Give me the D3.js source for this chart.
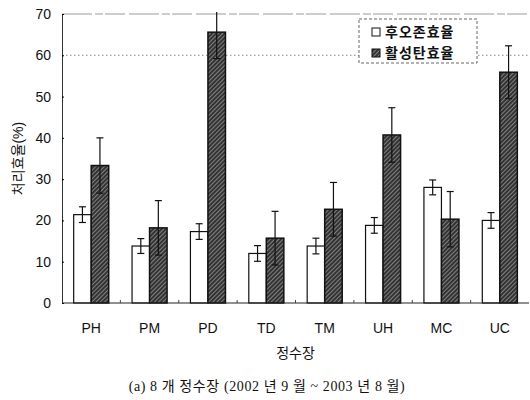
<!DOCTYPE html>
<html>
<head>
<meta charset="utf-8">
<script src="https://cdn.jsdelivr.net/npm/d3@7"></script>
<style>
  body { margin: 0; background: #fff; }
  svg text { font-family: "Liberation Sans", Arial, "Noto Sans CJK KR", sans-serif; fill: #111; }
</style>
</head>
<body>
<div id="chart"></div>
<script>
// data
var plants = ["PH", "PM", "PD", "TD", "TM", "UH", "MC", "UC"];
var ozoneEff = [21.4, 13.8, 17.3, 12.0, 13.8, 18.8, 28.0, 20.0];
var ozoneErr = [1.9, 1.8, 1.9, 1.9, 1.9, 1.9, 1.8, 1.9];
var carbonEff = [33.3, 18.2, 65.6, 15.7, 22.7, 40.7, 20.3, 55.9];
var carbonErr = [6.7, 6.6, 6.4, 6.5, 6.5, 6.6, 6.7, 6.4];
var yTicks = [0, 10, 20, 30, 40, 50, 60, 70];
var legendNames = ["후오존효율", "활성탄효율"];

var w = 530, h = 400,
    marginLeft = 62, marginRight = 1, marginTop = 14, marginBottom = 97,
    contentsWidth = w - marginLeft - marginRight, contentsHeight = h - marginTop - marginBottom;

var svg = d3.select("#chart").append("svg")
    .attr("width", w).attr("height", h);

var defs = svg.append("defs");
var pat = defs.append("pattern")
    .attr("id", "hatch")
    .attr("patternUnits", "userSpaceOnUse")
    .attr("width", 3).attr("height", 3)
    .attr("patternTransform", "rotate(45)");
pat.append("rect").attr("width", 3).attr("height", 3).attr("fill", "#333");
pat.append("line").attr("x1", 0).attr("y1", 0).attr("x2", 0).attr("y2", 3)
    .attr("stroke", "#c0c0c0").attr("stroke-width", 1.1);

defs.append("clipPath").attr("id", "clip")
  .append("rect").attr("x", -5).attr("y", -2).attr("width", contentsWidth + 10).attr("height", contentsHeight + 4);

var g = svg.append("g").attr("transform", "translate(" + marginLeft + "," + marginTop + ")");

var x0 = d3.scaleBand().domain(plants).range([0, contentsWidth]).paddingInner(0.4).paddingOuter(0.2);
var x1 = d3.scaleBand().domain([0, 1]).range([0, x0.bandwidth()]);
var y = d3.scaleLinear().domain([0, 70]).range([contentsHeight, 0]);

// grid lines (70 and 60), faint like the scan
g.append("line").attr("x1", 0).attr("x2", contentsWidth).attr("y1", y(70)).attr("y2", y(70))
    .attr("stroke", "#9a9a9a").attr("stroke-dasharray", "30,3,8,2,20,4");
g.append("line").attr("x1", 0).attr("x2", contentsWidth).attr("y1", y(60)).attr("y2", y(60))
    .attr("stroke", "#888").attr("stroke-dasharray", "1.5,2.5");

var rows = plants.map(function(p, i) {
  return [
    {plant: p, k: 0, v: ozoneEff[i], e: ozoneErr[i]},
    {plant: p, k: 1, v: carbonEff[i], e: carbonErr[i]}
  ];
});

var groups = g.append("g").attr("clip-path", "url(#clip)")
  .selectAll("g.grp").data(rows).enter().append("g")
    .attr("class", "grp")
    .attr("transform", function(d) { return "translate(" + x0(d[0].plant) + ",0)"; });

groups.selectAll("rect").data(function(d) { return d; }).enter().append("rect")
    .attr("x", function(d) { return x1(d.k); })
    .attr("y", function(d) { return y(d.v); })
    .attr("width", x1.bandwidth())
    .attr("height", function(d) { return y(0) - y(d.v); })
    .attr("fill", function(d) { return d.k ? "url(#hatch)" : "#fff"; })
    .attr("stroke", "#111")
    .attr("stroke-width", function(d) { return d.k ? 1.5 : 1.2; });

var err = groups.selectAll("g.err").data(function(d) { return d; }).enter().append("g").attr("class", "err");
var cx = function(d) { return x1(d.k) + x1.bandwidth() / 2; };
err.append("line")
    .attr("x1", cx).attr("x2", cx)
    .attr("y1", function(d) { return y(d.v + d.e); })
    .attr("y2", function(d) { return y(d.v - d.e); });
[1, -1].forEach(function(s) {
  err.filter(function(d) { return s === -1 || d.v + d.e < 70; }).append("line")
      .attr("x1", function(d) { return cx(d) - 3.5; })
      .attr("x2", function(d) { return cx(d) + 3.5; })
      .attr("y1", function(d) { return y(d.v + s * d.e); })
      .attr("y2", function(d) { return y(d.v + s * d.e); });
});
err.selectAll("line").attr("stroke", "#111").attr("stroke-width", 1.2);

// axes
var yAxis = d3.axisLeft(y).tickValues(yTicks).tickSizeInner(-2).tickSizeOuter(0).tickPadding(11);
var ya = g.append("g").call(yAxis);
ya.select(".domain").attr("stroke", "#333");
ya.selectAll("text").style("font-size", "14px");

var xa = g.append("g").attr("transform", "translate(0," + contentsHeight + ")");
xa.append("line").attr("x1", 0).attr("x2", contentsWidth).attr("stroke", "#222").attr("stroke-width", 1.2);
xa.selectAll("line.tk").data(d3.range(1, plants.length)).enter().append("line")
    .attr("class", "tk")
    .attr("x1", function(i) { return i * x0.step(); })
    .attr("x2", function(i) { return i * x0.step(); })
    .attr("y1", 0).attr("y2", -3).attr("stroke", "#444");
xa.selectAll("text").data(plants).enter().append("text")
    .attr("x", function(d) { return x0(d) + x0.bandwidth() / 2; })
    .attr("y", 30)
    .attr("text-anchor", "middle")
    .style("font-size", "14px")
    .text(function(d) { return d; });

svg.append("text")
    .attr("x", marginLeft + contentsWidth / 2)
    .attr("y", 358)
    .attr("text-anchor", "middle")
    .style("font-size", "14px")
    .text("정수장");

svg.append("text")
    .attr("transform", "translate(23," + (marginTop + contentsHeight / 2) + ") rotate(-90)")
    .attr("text-anchor", "middle")
    .style("font-size", "14px")
    .text("처리효율(%)");

svg.append("text")
    .attr("x", 267)
    .attr("y", 391)
    .attr("text-anchor", "middle")
    .style("font-family", "'Liberation Serif', 'Noto Sans CJK KR', serif")
    .style("font-size", "14px")
    .style("letter-spacing", "0.6px")
    .text("(a) 8 개 정수장 (2002 년 9 월 ~ 2003 년 8 월)");

// legend
var lg = svg.append("g").attr("transform", "translate(359,19)");
lg.append("rect").attr("width", 118).attr("height", 44)
    .attr("fill", "#fff").attr("stroke", "#666").attr("stroke-dasharray", "3,2");
var li = lg.selectAll("g.li").data(legendNames).enter().append("g")
    .attr("class", "li")
    .attr("transform", function(d, i) { return "translate(13," + (13 + i * 21) + ")"; });
li.append("rect").attr("x", 0).attr("y", -4).attr("width", 8).attr("height", 8)
    .attr("fill", function(d, i) { return i ? "url(#hatch)" : "#fff"; })
    .attr("stroke", "#111");
li.append("text").attr("x", 13).attr("y", 5)
    .style("font-size", "14px").style("font-weight", "bold").style("letter-spacing", "1px")
    .text(function(d) { return d; });
</script>
</body>
</html>
